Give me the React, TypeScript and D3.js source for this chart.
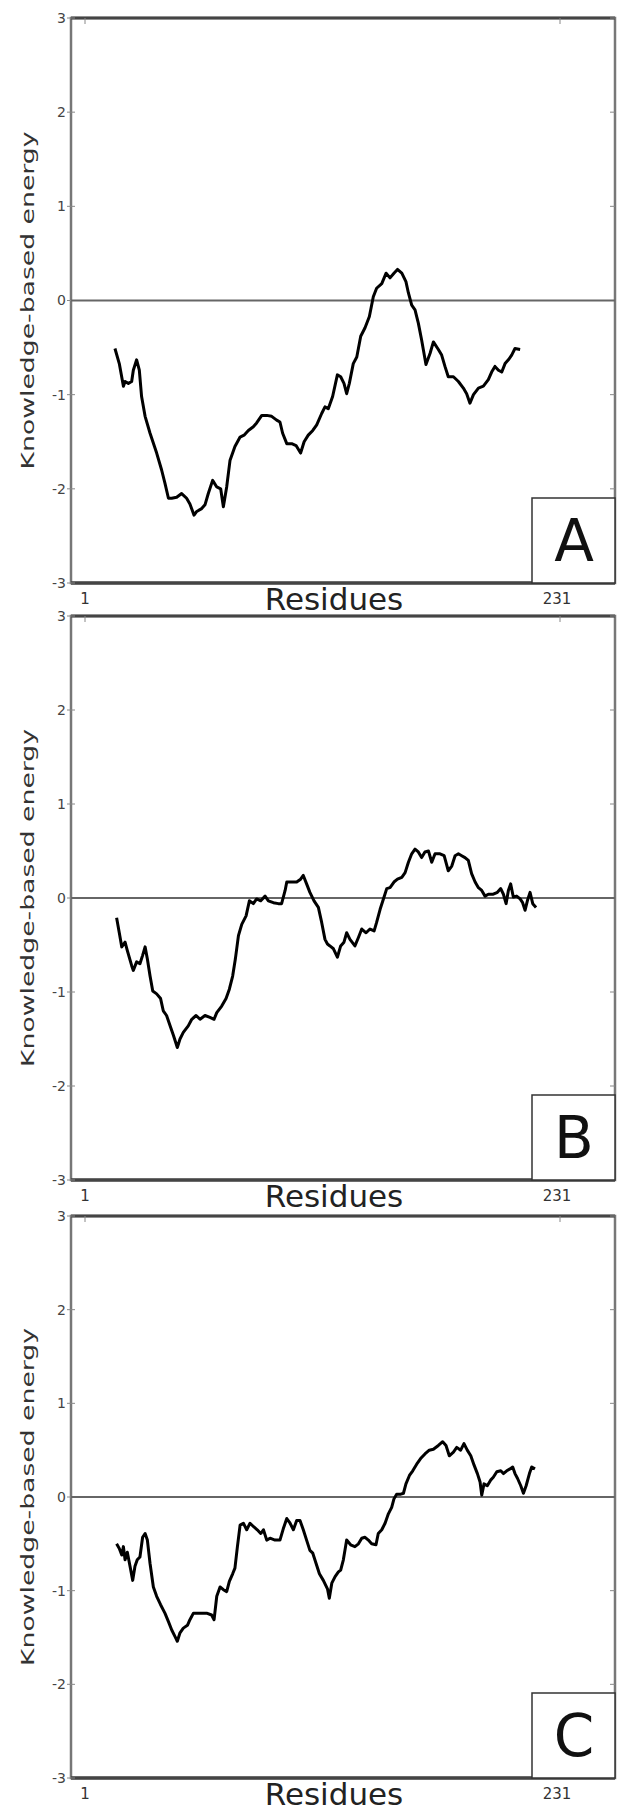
import React, { useRef, useEffect } from 'react';
import * as d3 from 'd3';

// residue positions and knowledge-based energy
const residuesA = [15.5, 17.6, 19.6, 20.4, 22.0, 23.6, 24.4, 26.0, 27.3, 28.4, 30.1, 32.5, 35.7, 38.1, 39.7, 41.4, 43.0, 45.4, 47.8, 50.2, 51.8, 53.8, 55.1, 57.5, 59.1, 60.7, 62.8, 64.8, 66.7, 68.0, 69.6, 71.2, 73.6, 76.1, 78.0, 80.1, 82.5, 84.1, 86.6, 89.0, 91.4, 93.8, 95.4, 96.7, 98.7, 101.1, 103.2, 105.4, 107.1, 109.1, 111.3, 113.2, 115.6, 117.2, 118.8, 120.9, 123.2, 124.8, 126.4, 127.7, 129.0, 130.9, 132.6, 134.5, 136.6, 138.7, 140.6, 142.2, 144.7, 146.8, 148.7, 150.6, 152.3, 154.4, 156.4, 157.6, 159.2, 160.8, 162.4, 164.0, 166.1, 168.1, 169.7, 172.1, 173.7, 175.3, 176.9, 179.4, 181.8, 184.2, 185.8, 187.4, 189.1, 191.5, 193.9, 196.3, 197.9, 199.5, 201.2, 202.8, 204.4, 206.0, 207.6, 209.2, 211.7];
const energyA = [-0.51, -0.67, -0.91, -0.86, -0.88, -0.86, -0.74, -0.63, -0.74, -1.02, -1.23, -1.41, -1.62, -1.80, -1.94, -2.10, -2.10, -2.09, -2.05, -2.10, -2.16, -2.28, -2.24, -2.21, -2.17, -2.05, -1.91, -1.98, -2.00, -2.19, -1.98, -1.70, -1.55, -1.45, -1.43, -1.38, -1.34, -1.30, -1.22, -1.22, -1.23, -1.27, -1.29, -1.41, -1.52, -1.52, -1.54, -1.62, -1.50, -1.43, -1.38, -1.32, -1.20, -1.13, -1.15, -1.02, -0.79, -0.81, -0.88, -0.99, -0.88, -0.67, -0.60, -0.38, -0.29, -0.17, 0.04, 0.13, 0.18, 0.29, 0.24, 0.29, 0.33, 0.29, 0.20, 0.08, -0.05, -0.10, -0.24, -0.42, -0.68, -0.56, -0.44, -0.52, -0.58, -0.70, -0.81, -0.81, -0.86, -0.93, -0.99, -1.09, -1.00, -0.93, -0.91, -0.84, -0.76, -0.70, -0.74, -0.76, -0.67, -0.63, -0.58, -0.51, -0.52];

const residuesB = [16.3, 17.6, 18.8, 20.4, 21.5, 23.6, 24.4, 26.0, 27.6, 28.9, 30.1, 31.2, 32.5, 33.8, 35.7, 37.6, 38.9, 40.5, 42.2, 43.8, 45.7, 47.0, 48.6, 51.0, 52.7, 54.8, 56.7, 59.1, 61.5, 63.5, 64.8, 67.2, 69.3, 70.9, 72.5, 73.8, 75.3, 76.9, 79.0, 80.6, 82.5, 84.1, 86.1, 88.2, 89.8, 92.2, 94.6, 96.2, 97.9, 98.7, 101.1, 103.5, 105.4, 106.7, 108.3, 109.9, 111.9, 114.0, 115.6, 117.2, 118.4, 119.6, 121.3, 123.2, 124.8, 126.4, 127.7, 129.3, 131.7, 133.4, 135.0, 137.1, 139.0, 141.0, 142.2, 143.9, 145.5, 147.1, 148.7, 150.6, 152.3, 154.4, 156.0, 157.6, 159.2, 160.8, 162.4, 164.0, 165.6, 167.3, 168.9, 170.5, 172.9, 174.9, 176.9, 178.6, 180.2, 181.8, 183.4, 185.0, 186.6, 188.2, 189.9, 191.5, 193.1, 194.7, 196.3, 198.7, 200.7, 202.3, 203.6, 204.9, 206.0, 207.1, 208.4, 210.0, 211.7, 212.9, 214.1, 215.2, 216.5, 217.8, 219.4];
const energyB = [-0.21, -0.37, -0.52, -0.47, -0.56, -0.72, -0.77, -0.68, -0.70, -0.61, -0.52, -0.65, -0.83, -0.99, -1.02, -1.07, -1.20, -1.25, -1.36, -1.46, -1.59, -1.50, -1.43, -1.36, -1.29, -1.25, -1.29, -1.25, -1.27, -1.29, -1.22, -1.15, -1.07, -0.97, -0.83, -0.65, -0.40, -0.28, -0.19, -0.03, -0.06, -0.01, -0.03, 0.02, -0.03, -0.05, -0.06, -0.06, 0.08, 0.17, 0.17, 0.17, 0.20, 0.24, 0.15, 0.06, -0.03, -0.10, -0.26, -0.44, -0.49, -0.51, -0.54, -0.63, -0.51, -0.47, -0.37, -0.44, -0.51, -0.42, -0.33, -0.37, -0.33, -0.35, -0.26, -0.12, -0.01, 0.10, 0.11, 0.17, 0.20, 0.22, 0.27, 0.38, 0.47, 0.52, 0.49, 0.43, 0.49, 0.50, 0.38, 0.47, 0.47, 0.45, 0.29, 0.34, 0.45, 0.47, 0.45, 0.43, 0.40, 0.26, 0.17, 0.11, 0.08, 0.02, 0.04, 0.04, 0.06, 0.10, 0.04, -0.06, 0.08, 0.15, 0.01, 0.02, -0.01, -0.05, -0.13, -0.03, 0.06, -0.06, -0.10];

const residuesC = [16.3, 17.6, 18.8, 19.6, 20.4, 21.5, 22.8, 24.1, 25.2, 26.3, 27.6, 28.9, 30.1, 31.2, 32.5, 34.1, 35.7, 37.6, 39.7, 41.4, 43.0, 44.6, 45.7, 47.0, 48.6, 50.6, 51.8, 53.5, 55.4, 57.5, 59.9, 62.3, 63.5, 64.8, 66.4, 68.0, 69.6, 70.9, 72.5, 73.6, 74.8, 76.1, 77.7, 79.3, 80.9, 82.8, 84.4, 86.1, 87.4, 89.0, 90.6, 93.0, 95.4, 97.0, 98.7, 100.3, 101.9, 103.5, 105.1, 106.7, 108.3, 109.9, 111.3, 112.9, 114.5, 116.4, 118.4, 119.3, 120.5, 122.1, 123.7, 124.8, 126.1, 127.7, 129.6, 131.7, 133.4, 135.0, 136.6, 138.2, 139.8, 141.9, 143.0, 144.7, 146.3, 147.9, 149.5, 150.6, 151.9, 153.9, 155.2, 156.4, 158.1, 159.7, 161.6, 163.5, 165.6, 167.7, 169.7, 172.1, 174.2, 175.8, 177.4, 179.4, 181.0, 182.9, 184.5, 186.1, 187.8, 189.4, 191.0, 192.3, 193.1, 194.2, 195.8, 197.4, 198.7, 200.4, 202.3, 203.6, 205.2, 206.8, 208.1, 209.2, 210.4, 212.0, 213.3, 214.6, 216.2, 217.3, 218.9];
const energyC = [-0.50, -0.55, -0.62, -0.53, -0.67, -0.59, -0.74, -0.89, -0.74, -0.67, -0.64, -0.43, -0.39, -0.46, -0.71, -0.96, -1.06, -1.15, -1.24, -1.33, -1.42, -1.49, -1.54, -1.45, -1.40, -1.37, -1.31, -1.24, -1.24, -1.24, -1.24, -1.26, -1.31, -1.06, -0.96, -0.99, -1.01, -0.90, -0.82, -0.76, -0.53, -0.30, -0.28, -0.35, -0.28, -0.32, -0.35, -0.39, -0.35, -0.46, -0.44, -0.46, -0.46, -0.34, -0.23, -0.28, -0.35, -0.25, -0.25, -0.35, -0.46, -0.57, -0.60, -0.71, -0.82, -0.89, -0.98, -1.08, -0.92, -0.85, -0.80, -0.78, -0.67, -0.46, -0.51, -0.53, -0.50, -0.44, -0.43, -0.46, -0.50, -0.51, -0.39, -0.35, -0.28, -0.18, -0.11, -0.02, 0.03, 0.03, 0.04, 0.14, 0.23, 0.28, 0.35, 0.41, 0.46, 0.50, 0.51, 0.55, 0.59, 0.55, 0.44, 0.48, 0.53, 0.50, 0.57, 0.50, 0.44, 0.34, 0.25, 0.16, 0.02, 0.14, 0.12, 0.18, 0.21, 0.27, 0.28, 0.25, 0.28, 0.30, 0.32, 0.25, 0.20, 0.12, 0.04, 0.12, 0.25, 0.32, 0.30];

const panelLetters = ["A", "B", "C"];
const yTicks = [-3, -2, -1, 0, 1, 2, 3];
const xTickValues = [1, 231];
const xLabel = "Residues";
const yLabel = "Knowledge-based energy";

const W = 617;
const H = 1811;
const frameLeft = 71;
const frameRight = 615;
// vertical extent (energy +3 .. -3) of each panel
const panelTops = [18, 616, 1216];
const panelBottoms = [583, 1180, 1778];

const App: React.FC = () => {
  const svgRef = useRef<SVGSVGElement>(null);

  useEffect(() => {
    if (!svgRef.current) return;
    const svg = d3.select(svgRef.current);
    svg.selectAll("*").remove();

    const font = "'DejaVu Sans', Verdana, sans-serif";
    const series = [
      residuesA.map((r, i) => ({ r, e: energyA[i] })),
      residuesB.map((r, i) => ({ r, e: energyB[i] })),
      residuesC.map((r, i) => ({ r, e: energyC[i] })),
    ];

    const xScale = d3.scaleLinear().domain([1, 231]).range([85, 560]);

    series.forEach((data, p) => {
      const top = panelTops[p];
      const bottom = panelBottoms[p];
      const yScale = d3.scaleLinear().domain([-3, 3]).range([bottom, top]);
      const g = svg.append("g");

      // frame
      g.append("rect")
        .attr("x", frameLeft).attr("y", top)
        .attr("width", frameRight - frameLeft).attr("height", bottom - top)
        .attr("fill", "#fff")
        .attr("stroke", "#777")
        .attr("stroke-width", 2.5);
      g.append("line")
        .attr("x1", frameLeft).attr("x2", frameRight)
        .attr("y1", top).attr("y2", top)
        .attr("stroke", "#444").attr("stroke-width", 3);
      g.append("line")
        .attr("x1", frameLeft).attr("x2", frameRight)
        .attr("y1", bottom).attr("y2", bottom)
        .attr("stroke", "#444").attr("stroke-width", 3.5);

      // y ticks + labels
      g.selectAll(".ytick")
        .data(yTicks)
        .join("line")
        .attr("x1", frameLeft - 4).attr("x2", frameLeft + 4)
        .attr("y1", d => yScale(d)).attr("y2", d => yScale(d))
        .attr("stroke", "#888").attr("stroke-width", 1);
      g.selectAll(".ytickR")
        .data(yTicks)
        .join("line")
        .attr("x1", frameRight - 5).attr("x2", frameRight)
        .attr("y1", d => yScale(d)).attr("y2", d => yScale(d))
        .attr("stroke", "#888").attr("stroke-width", 1);
      g.selectAll(".ylab")
        .data(yTicks)
        .join("text")
        .attr("x", frameLeft - 5)
        .attr("y", d => yScale(d))
        .attr("dy", "0.35em")
        .attr("text-anchor", "end")
        .style("font-family", font)
        .style("font-size", "14px")
        .style("fill", "#444")
        .text(d => String(d));

      // x ticks (top edge)
      g.selectAll(".xtick")
        .data(xTickValues)
        .join("line")
        .attr("x1", d => xScale(d)).attr("x2", d => xScale(d))
        .attr("y1", top).attr("y2", top + 6)
        .attr("stroke", "#888").attr("stroke-width", 1);

      // zero line
      g.append("line")
        .attr("x1", frameLeft).attr("x2", frameRight)
        .attr("y1", yScale(0)).attr("y2", yScale(0))
        .attr("stroke", "#666").attr("stroke-width", 2);

      // energy profile
      const line = d3.line<{ r: number; e: number }>()
        .x(d => xScale(d.r))
        .y(d => yScale(d.e));
      g.append("path")
        .datum(data)
        .attr("fill", "none")
        .attr("stroke", "#000")
        .attr("stroke-width", 3)
        .attr("stroke-linejoin", "round")
        .attr("d", line);

      // letter box
      g.append("rect")
        .attr("x", 532).attr("y", bottom - 85)
        .attr("width", frameRight - 532).attr("height", 85)
        .attr("fill", "#fff")
        .attr("stroke", "#333").attr("stroke-width", 1.5);
      g.append("text")
        .attr("x", 574).attr("y", bottom - 22)
        .attr("text-anchor", "middle")
        .style("font-family", font)
        .style("font-size", "58px")
        .style("fill", "#111")
        .text(panelLetters[p]);

      // x labels
      g.selectAll(".xlab")
        .data(xTickValues)
        .join("text")
        .attr("x", d => xScale(d) - (d === 231 ? 3 : 0))
        .attr("y", bottom + 21)
        .attr("text-anchor", "middle")
        .style("font-family", font)
        .style("font-size", "15px")
        .style("fill", "#333")
        .text(d => String(d));
      g.append("text")
        .attr("x", 334).attr("y", bottom + 27)
        .attr("text-anchor", "middle")
        .style("font-family", font)
        .style("font-size", "31px")
        .style("fill", "#222")
        .text(xLabel);

      // y label
      const yMid = yScale(0);
      g.append("text")
        .attr("transform", `translate(34,${yMid}) rotate(-90)`)
        .attr("text-anchor", "middle")
        .attr("textLength", 338)
        .attr("lengthAdjust", "spacingAndGlyphs")
        .style("font-family", font)
        .style("font-size", "18px")
        .style("fill", "#333")
        .text(yLabel);
    });
  }, []);

  return (
    <svg
      ref={svgRef}
      width={W}
      height={H}
      style={{ position: 'absolute', left: 0, top: 0, background: '#fff' }}
    />
  );
};

export default App;
